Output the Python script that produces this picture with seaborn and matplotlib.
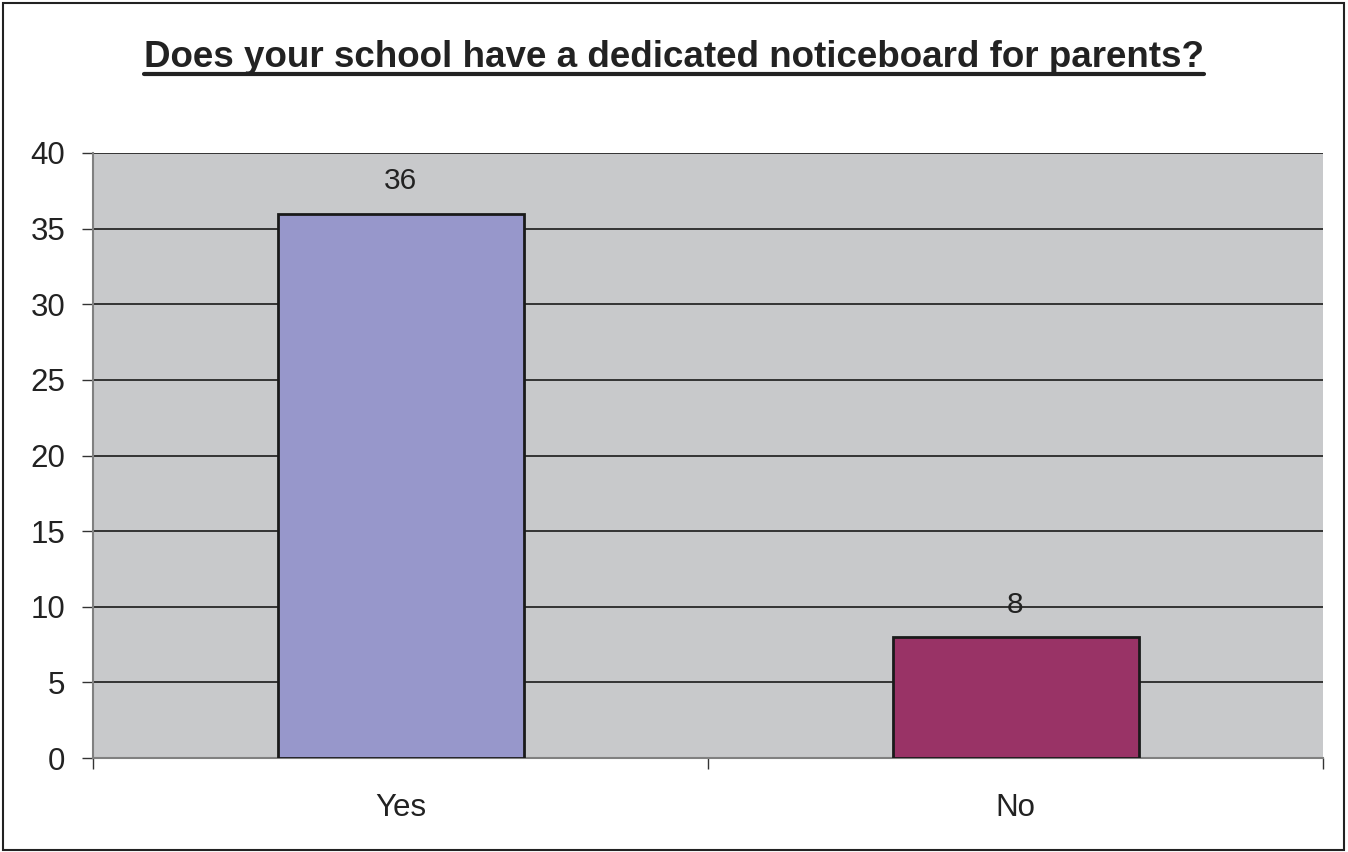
import matplotlib
matplotlib.use("Agg")
import matplotlib.pyplot as plt
import seaborn as sns
import pandas as pd
from matplotlib.lines import Line2D
from matplotlib.patches import Rectangle

# Data
answers = ["Yes", "No"]
counts = [36, 8]
bar_colors = ["#9797CB", "#993366"]
title = "Does your school have a dedicated noticeboard for parents?"

df = pd.DataFrame({"answer": answers, "count": counts})

sns.set_style("white")
plt.rcParams["font.family"] = ["Liberation Sans", "DejaVu Sans"]

fig = plt.figure(figsize=(13.48, 8.52), dpi=100)
ax = fig.add_axes([93 / 1348, 94 / 852, 1230 / 1348, 605 / 852])
ax.set_facecolor("#C8C9CB")

sns.barplot(data=df, x="answer", y="count", hue="answer", palette=bar_colors,
            saturation=1, width=0.4, edgecolor="#1a1a1a", linewidth=2,
            legend=False, ax=ax, zorder=3)

for container in ax.containers:
    ax.bar_label(container, fontsize=21.5, padding=13, color="#222222")

ax.set_xlim(-0.5, 1.5)
ax.set_ylim(0, 40)
ax.set_yticks(range(0, 41, 5))
ax.grid(axis="y", color="#1a1a1a", linewidth=1.2, zorder=0)
ax.set_axisbelow(True)
ax.set_xlabel("")
ax.set_ylabel("")

for side in ["top", "right"]:
    ax.spines[side].set_visible(False)
for side in ["left", "bottom"]:
    ax.spines[side].set_color("#808080")
    ax.spines[side].set_linewidth(1.5)

ax.tick_params(axis="y", which="major", length=8, width=1, color="#333333",
               pad=12, labelsize=22.5, labelcolor="#222222", left=True)
ax.tick_params(axis="x", which="major", length=0, pad=25, labelsize=22.5,
               labelcolor="#222222")
ax.set_xticks([-0.5, 0.5, 1.5], minor=True)
ax.tick_params(axis="x", which="minor", length=8, width=1, color="#333333",
               bottom=True)

# title with underline
t = fig.text(0.5, 1 - 67 / 852, title, ha="center", va="baseline",
             fontsize=26.5, fontweight="bold", color="#222222")
fig.canvas.draw()
bb = t.get_window_extent(renderer=fig.canvas.get_renderer())
uy = 1 - 74 / 852
fig.add_artist(Line2D([bb.x0 / 1348, bb.x1 / 1348], [uy, uy],
                      color="#222222", linewidth=3,
                      transform=fig.transFigure))

# frame round the whole chart
fig.add_artist(Rectangle((3 / 1348, 2 / 852), 1341 / 1348, 847 / 852,
                         fill=False, edgecolor="#222222", linewidth=1.5,
                         transform=fig.transFigure))

fig.savefig("out.png", dpi=100)
